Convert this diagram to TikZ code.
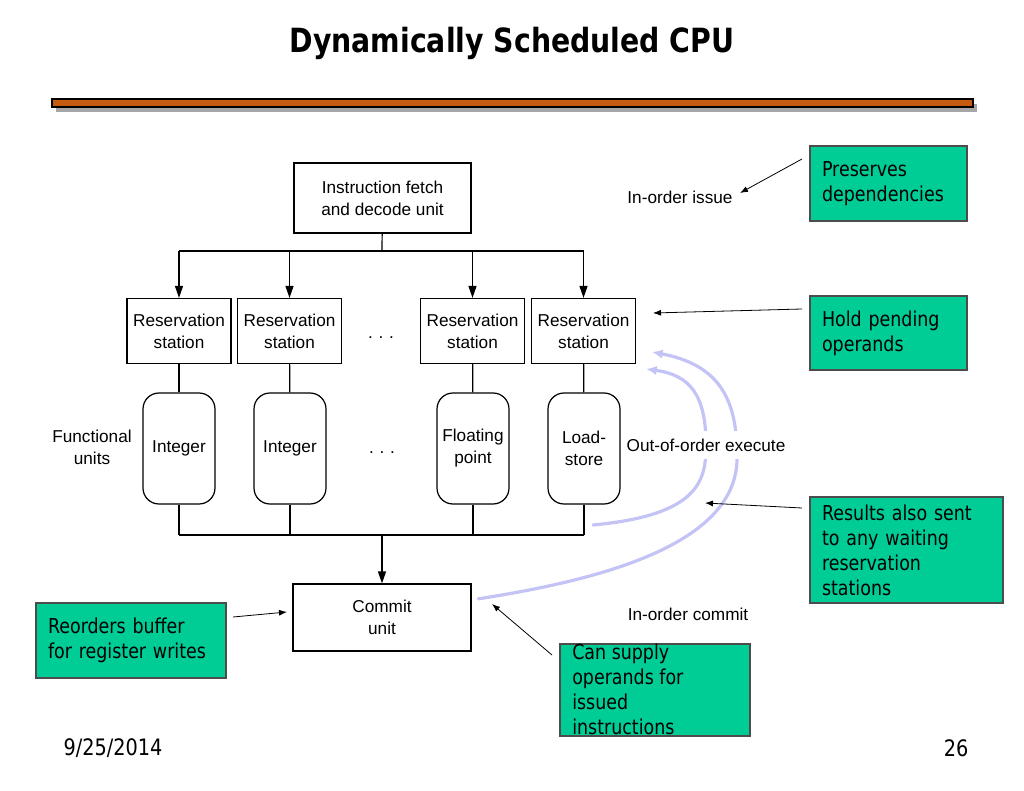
\documentclass[tikz,border=0pt]{standalone}
\usepackage{fontspec}
\setmainfont{Liberation Sans}
\newfontfamily\slidefont[FakeStretch=0.85]{DejaVu Sans}
\usetikzlibrary{arrows.meta}
\definecolor{barorange}{RGB}{197,90,17}
\definecolor{notegreen}{RGB}{0,204,150}
\definecolor{bypassblue}{RGB}{195,195,245}

\begin{document}
\begin{tikzpicture}[x=0.75pt,y=-0.75pt,
  box/.style={draw,line width=0.9pt,align=center,inner sep=0pt,font=\fontsize{12.9}{16.5}\selectfont},
  rs/.style={box,minimum width=78pt,minimum height=48.75pt},
  fu/.style={box,rounded corners=12pt,minimum width=54pt,minimum height=83.25pt},
  lbl/.style={align=center,font=\fontsize{12.9}{16.5}\selectfont},
  note/.style={draw=black!70,fill=notegreen,line width=0.8pt,align=left,inner xsep=9pt,
    font=\slidefont\fontsize{15.4}{18.75}\selectfont},
  wire/.style={line width=0.9pt},
  feed/.style={line width=0.9pt,-{Triangle[length=9pt,width=6pt]}},
  hint/.style={line width=0.6pt,-{Latex[length=6pt,width=4.5pt]}},
  bypass/.style={bypassblue,line width=2.4pt,line cap=round,-{Latex[length=8pt,width=7pt]}}]
\useasboundingbox (0,0) rectangle (1024,791);
% title and bar
\draw (512,43) node[font=\slidefont\bfseries\fontsize{25}{30}\selectfont] (title) {Dynamically Scheduled CPU};
\fill[black!35] (56,104) rectangle (977,112);
\draw[fill=barorange,line width=0.8pt] (52,99) rectangle (973,107);
% units
\draw (382.5,198) node[box,minimum width=132.75pt,minimum height=52.5pt] (fetch) {Instruction fetch\\and decode unit};
\draw (179,331) node[rs] (rs1) {Reservation\\station};
\draw (289.5,331) node[rs] (rs2) {Reservation\\station};
\draw (472.5,331) node[rs] (rs3) {Reservation\\station};
\draw (583.5,331) node[rs] (rs4) {Reservation\\station};
\draw (381,338) node[lbl] (dotsrs) {.\,\,.\,\,.};
\draw (179,448.5) node[fu] (fu1) {Integer};
\draw (290,448.5) node[fu] (fu2) {Integer};
\draw (473,448.5) node[fu] (fu3) {Floating\\point};
\draw (584,448.5) node[fu] (fu4) {Load-\\store};
\draw (382,453) node[lbl] (dotsfu) {.\,\,.\,\,.};
\draw (92,447) node[lbl] (funits) {Functional\\units};
\draw (382,617.5) node[box,minimum width=133.5pt,minimum height=50.25pt] (commit) {Commit\\unit};
\coordinate (topbus) at (382,251);
\coordinate (bus) at (382,535);
% wiring
\draw[wire] (fetch) -- (topbus);
\draw[wire] (rs1.north |- topbus) -- (rs4.north |- topbus);
\foreach \r in {rs1,rs2,rs3,rs4}
  \draw[feed] (\r.north |- topbus) -- (\r.north);
\foreach \r/\f in {rs1/fu1,rs2/fu2,rs3/fu3,rs4/fu4} {
  \draw[wire] (\r) -- (\f);
  \draw[wire] (\f) -- (\f |- bus);
}
\draw[wire] (fu1 |- bus) -- (fu4 |- bus);
\draw[feed] (bus) -- (commit);
% result bypass
\coordinate (busend) at (593,525);
\coordinate (rsin1) at (646,369);
\coordinate (rsin2) at (652,352);
\draw[bypass] (busend) .. controls (700,515) and (706,480) .. (706,445) .. controls (706,395) and (690,375) .. (rsin1);
\draw[bypass] ([xshift=5pt,yshift=14pt]commit.east) .. controls (600,580) and (735,545) .. (737,460) .. controls (738,400) and (720,365) .. (rsin2);
% stage labels
\draw (680,197) node[lbl] (issue) {In-order issue};
\draw (706,445) node[lbl,fill=white,inner ysep=6pt] (ooo) {Out-of-order execute};
\draw (688,614) node[lbl] (incommit) {In-order commit};
% notes
\draw (888.5,183.5) node[note,text width=99.75pt,minimum height=56.25pt] (pres) {Preserves\\dependencies};
\draw (888.5,333) node[note,text width=99.75pt,minimum height=55.5pt] (hold) {Hold pending\\operands};
\draw (906.5,550) node[note,text width=126.75pt,minimum height=79.5pt] (results) {Results also sent\\to any waiting\\reservation\\stations};
\draw (131,640.5) node[note,text width=124.5pt,minimum height=56.25pt] (reorder) {Reorders buffer\\for register writes};
\draw (655,690) node[note,minimum width=142.5pt,minimum height=69pt] (supply) {};
\draw (560,644) node[anchor=north west,align=left,inner xsep=9pt,inner ysep=0pt,
  font=\slidefont\fontsize{15.4}{18.75}\selectfont] (supplytext) {Can supply\\operands for\\issued\\instructions};
% note arrows
\coordinate (prestail) at (802,159);
\coordinate (preshead) at (740,193);
\coordinate (holdtail) at (802,309);
\coordinate (holdhead) at (653,313);
\coordinate (restail) at (802,508);
\coordinate (reshead) at (705,503);
\coordinate (suptail) at (552,655);
\coordinate (suphead) at (492,604);
\coordinate (reotail) at (233,617);
\coordinate (reohead) at (287,612);
\draw[hint] (prestail) -- (preshead);
\draw[hint] (holdtail) -- (holdhead);
\draw[hint] (restail) -- (reshead);
\draw[hint] (suptail) -- (suphead);
\draw[hint] (reotail) -- (reohead);
% footer
\draw (113,748) node[font=\slidefont\fontsize{17}{20}\selectfont] (date) {9/25/2014};
\draw (956,748) node[font=\slidefont\fontsize{17}{20}\selectfont] (page) {26};
\end{tikzpicture}
\end{document}
